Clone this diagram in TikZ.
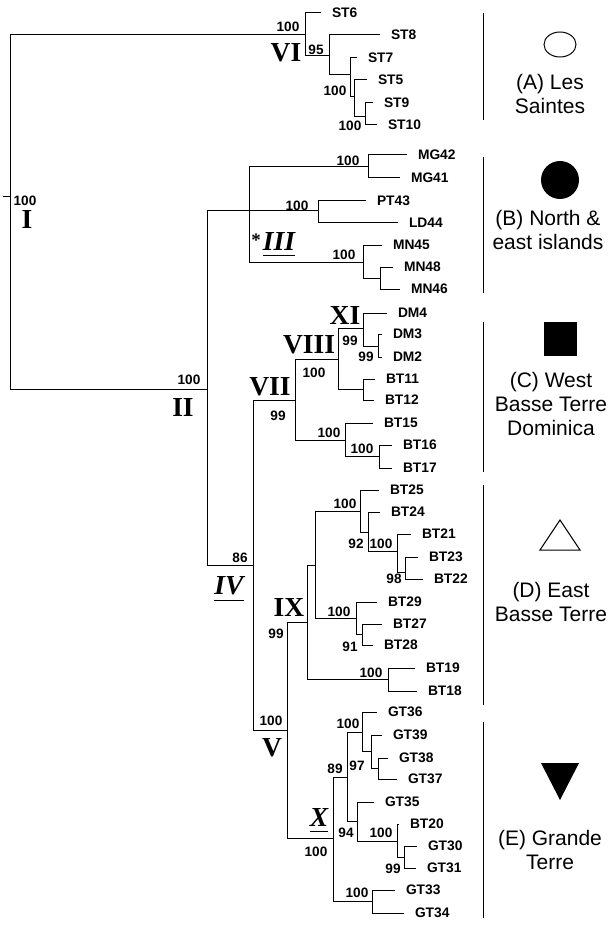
\documentclass[tikz,border=0pt]{standalone}
\usepackage{fontspec}
\setmainfont{Liberation Sans}
\newfontfamily\cladefont{Liberation Serif}

\begin{document}
\begin{tikzpicture}[
        x=1pt, y=-1pt,
        branch/.style={line width=1pt},
        tip/.style={anchor=west, inner xsep=11pt, inner ysep=1pt, outer sep=0pt, font=\fontsize{13.8}{14}\selectfont\bfseries},
        bs/.style={inner sep=0pt, font=\fontsize{13.6}{14}\selectfont\bfseries},
        clade/.style={inner sep=0pt, font=\fontsize{27.5}{28}\selectfont\cladefont\bfseries},
        iclade/.style={inner xsep=0pt, inner ysep=5pt, font=\fontsize{27.5}{28}\selectfont\cladefont\bfseries\itshape},
        uline/.style={line width=1.3pt},
        legend/.style={align=center, inner sep=0pt, font=\fontsize{21}{24}\selectfont},
        symb/.style={line width=1pt}
    ]
    \useasboundingbox (0,0) rectangle (612,925);

    % internal nodes
    \coordinate (stem) at (3,197);
    \coordinate (root) at (10,197);
    \coordinate (cVI)  at (305,35);
    \coordinate (stA)  at (329,56);
    \coordinate (stB)  at (350,75);
    \coordinate (stC)  at (354,97);
    \coordinate (stD)  at (365,117);
    \coordinate (cII)  at (207,389);
    \coordinate (cIII) at (249,211);
    \coordinate (mgA)  at (368,167);
    \coordinate (ptA)  at (318,211);
    \coordinate (mnA)  at (363,262);
    \coordinate (mnB)  at (380,278);
    \coordinate (cIV)  at (253,565);
    \coordinate (cVII) at (295,400);
    \coordinate (cVIII) at (338,359);
    \coordinate (cXI)  at (363,328);
    \coordinate (dmA)  at (378,346);
    \coordinate (btA)  at (363,389);
    \coordinate (btB)  at (345,440);
    \coordinate (btC)  at (379,456);
    \coordinate (cV)   at (287,730);
    \coordinate (cIX)  at (307,622);
    \coordinate (ixA)  at (315,565);
    \coordinate (ixB)  at (360,511);
    \coordinate (ixC)  at (368,532);
    \coordinate (ixD)  at (397,551);
    \coordinate (ixE)  at (405,572);
    \coordinate (ixF)  at (356,618);
    \coordinate (ixG)  at (362,634);
    \coordinate (ixH)  at (388,679);
    \coordinate (cX)   at (333,838);
    \coordinate (xA)   at (347,777);
    \coordinate (xB)   at (362,732);
    \coordinate (xC)   at (371,751);
    \coordinate (xD)   at (378,768);
    \coordinate (xE)   at (357,821);
    \coordinate (xF)   at (397,841);
    \coordinate (xG)   at (404,857);
    \coordinate (xH)   at (372,901);

    % tips
    \node[tip] (st6)  at (321,13)  {ST6};
    \node[tip] (st8)  at (380,35)  {ST8};
    \node[tip] (st7)  at (357,58)  {ST7};
    \node[tip] (st5)  at (367,80)  {ST5};
    \node[tip] (st9)  at (373,103) {ST9};
    \node[tip] (st10) at (377,125) {ST10};
    \node[tip] (mg42) at (407,155) {MG42};
    \node[tip] (mg41) at (400,178) {MG41};
    \node[tip] (pt43) at (366,201) {PT43};
    \node[tip] (ld44) at (398,223) {LD44};
    \node[tip] (mn45) at (382,245) {MN45};
    \node[tip] (mn48) at (393,267) {MN48};
    \node[tip] (mn46) at (400,289) {MN46};
    \node[tip] (dm4)  at (387,313) {DM4};
    \node[tip] (dm3)  at (382,334) {DM3};
    \node[tip] (dm2)  at (382,357) {DM2};
    \node[tip] (bt11) at (375,379) {BT11};
    \node[tip] (bt12) at (374,400) {BT12};
    \node[tip] (bt15) at (373,423) {BT15};
    \node[tip] (bt16) at (392,445) {BT16};
    \node[tip] (bt17) at (392,468) {BT17};
    \node[tip] (bt25) at (379,490) {BT25};
    \node[tip] (bt24) at (380,512) {BT24};
    \node[tip] (bt21) at (411,534) {BT21};
    \node[tip] (bt23) at (418,557) {BT23};
    \node[tip] (bt22) at (423,579) {BT22};
    \node[tip] (bt29) at (377,602) {BT29};
    \node[tip] (bt27) at (382,624) {BT27};
    \node[tip] (bt28) at (373,645) {BT28};
    \node[tip] (bt19) at (415,668) {BT19};
    \node[tip] (bt18) at (417,691) {BT18};
    \node[tip] (gt36) at (377,712) {GT36};
    \node[tip] (gt39) at (382,735) {GT39};
    \node[tip] (gt38) at (388,758) {GT38};
    \node[tip] (gt37) at (397,779) {GT37};
    \node[tip] (gt35) at (374,802) {GT35};
    \node[tip] (bt20) at (399,824) {BT20};
    \node[tip] (gt30) at (417,846) {GT30};
    \node[tip] (gt31) at (416,868) {GT31};
    \node[tip] (gt33) at (395,890) {GT33};
    \node[tip] (gt34) at (404,913) {GT34};

    % branches
    \draw[branch] (stem) -- (root);
    \foreach \a/\b in {root/cVI, root/cII, cVI/st6, cVI/stA, stA/st8, stA/stB, stB/st7, stB/stC,
            stC/st5, stC/stD, stD/st9, stD/st10,
            cII/cIII, cII/cIV, cIII/mgA, cIII/ptA, cIII/mnA, mgA/mg42, mgA/mg41, ptA/pt43, ptA/ld44,
            mnA/mn45, mnA/mnB, mnB/mn48, mnB/mn46,
            cIV/cVII, cIV/cV, cVII/cVIII, cVII/btB, cVIII/cXI, cVIII/btA, cXI/dm4, cXI/dmA,
            dmA/dm3, dmA/dm2, btA/bt11, btA/bt12, btB/bt15, btB/btC, btC/bt16, btC/bt17,
            cV/cIX, cV/cX, cIX/ixA, cIX/ixH, ixA/ixB, ixA/ixF, ixB/bt25, ixB/ixC, ixC/bt24, ixC/ixD,
            ixD/bt21, ixD/ixE, ixE/bt23, ixE/bt22, ixF/bt29, ixF/ixG, ixG/bt27, ixG/bt28,
            ixH/bt19, ixH/bt18,
            cX/xA, cX/xH, xA/xB, xA/xE, xB/gt36, xB/xC, xC/gt39, xC/xD, xD/gt38, xD/gt37,
            xE/gt35, xE/xF, xF/bt20, xF/xG, xG/gt30, xG/gt31, xH/gt33, xH/gt34}
        \draw[branch] (\a) |- (\b);

    % bootstrap values
    \node[bs] (bs1)  at (25,201)  {100};
    \node[bs] (bs2)  at (288,27)  {100};
    \node[bs] (bs3)  at (316,50)  {95};
    \node[bs] (bs4)  at (335,91)  {100};
    \node[bs] (bs5)  at (350,126) {100};
    \node[bs] (bs6)  at (348,161) {100};
    \node[bs] (bs7)  at (297,206) {100};
    \node[bs] (bs8)  at (344,255) {100};
    \node[bs] (bs9)  at (189,380) {100};
    \node[bs] (bs10) at (350,341) {99};
    \node[bs] (bs11) at (366,357) {99};
    \node[bs] (bs12) at (314,373) {100};
    \node[bs] (bs13) at (278,416) {99};
    \node[bs] (bs14) at (329,433) {100};
    \node[bs] (bs15) at (362,449) {100};
    \node[bs] (bs16) at (240,558) {86};
    \node[bs] (bs17) at (345,504) {100};
    \node[bs] (bs18) at (356,544) {92};
    \node[bs] (bs19) at (381,544) {100};
    \node[bs] (bs20) at (394,579) {98};
    \node[bs] (bs21) at (339,612) {100};
    \node[bs] (bs22) at (350,647) {91};
    \node[bs] (bs23) at (276,634) {99};
    \node[bs] (bs24) at (371,673) {100};
    \node[bs] (bs25) at (271,721) {100};
    \node[bs] (bs26) at (348,724) {100};
    \node[bs] (bs27) at (335,769) {89};
    \node[bs] (bs28) at (357,766) {97};
    \node[bs] (bs29) at (346,833) {94};
    \node[bs] (bs30) at (381,833) {100};
    \node[bs] (bs31) at (393,869) {99};
    \node[bs] (bs32) at (357,893) {100};
    \node[bs] (bs33) at (316,852) {100};

    % clade numerals
    \node[clade] (lI)    at (27,219)  {I};
    \node[clade] (lVI)   at (286,53)  {VI};
    \node[clade] (lII)   at (183,407) {II};
    \node[iclade] (lIII) at (279,241) {III};
    \node[inner sep=0pt, anchor=north, font=\fontsize{19}{20}\selectfont\cladefont\bfseries] (ast) at (256,234) {*};
    \node[iclade] (lIV)  at (229,586) {IV};
    \node[clade] (lV)    at (272,748) {V};
    \node[clade] (lVII)  at (270,387) {VII};
    \node[clade] (lVIII) at (309,345) {VIII};
    \node[clade] (lIX)   at (289,607) {IX};
    \node[iclade] (lX)   at (319,817) {X};
    \node[clade] (lXI)   at (345,315) {XI};
    \draw[uline] (lIII.south west) -- (lIII.south east);
    \draw[uline] (lIV.south west) -- (lIV.south east);
    \draw[uline] (lX.south west) -- (lX.south east);

    % legend
    \foreach \t/\b in {13/120, 157/293, 322/472, 485/705, 722/918}
        \draw[branch] (483,\t) -- (483,\b);
    \draw[symb] (560,44.5) ellipse [x radius=16, y radius=12.5];
    \fill (560,180) circle [radius=19];
    \fill (543.5,322) rectangle (577,356);
    \draw[symb, line join=miter] (560,520) -- (580,550) -- (540,550) -- cycle;
    \fill (541,763) -- (579,763) -- (560,800) -- cycle;
    \node[legend] (lgA) at (550,94)  {(A) Les\\Saintes};
    \node[legend] (lgB) at (548,230) {(B) North \&\\east islands};
    \node[legend] (lgC) at (551,404) {(C) West\\Basse Terre\\Dominica};
    \node[legend] (lgD) at (551,602) {(D) East\\Basse Terre};
    \node[legend] (lgE) at (550,850) {(E) Grande\\Terre};

\end{tikzpicture}
\end{document}
